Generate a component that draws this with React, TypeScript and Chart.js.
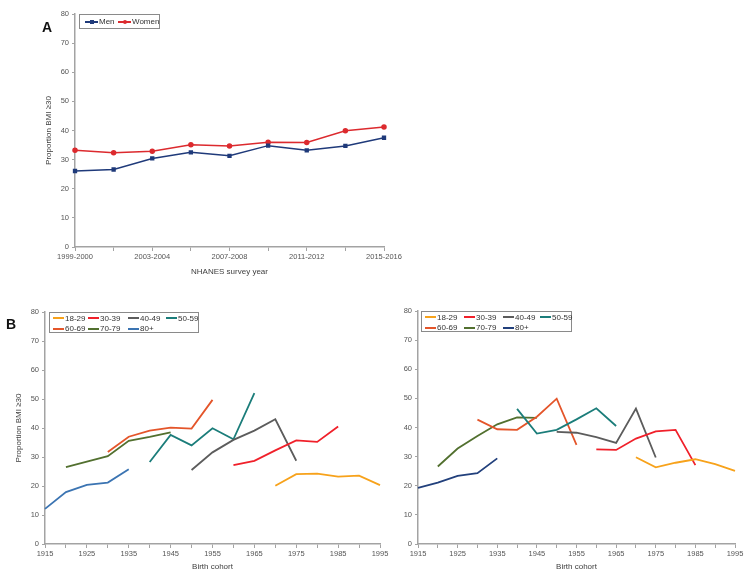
import React, { useEffect, useRef } from "react";
import { Chart, registerables } from "chart.js";
Chart.register(...registerables);

// ---------- Panel A data ----------
const surveyYears = ["1999-2000", "2001-2002", "2003-2004", "2005-2006", "2007-2008", "2009-2010", "2011-2012", "2013-2014", "2015-2016"];
const menValues = [26.1, 26.6, 30.4, 32.5, 31.3, 34.8, 33.2, 34.7, 37.5];
const womenValues = [33.2, 32.4, 32.9, 35.1, 34.7, 36.0, 35.9, 39.9, 41.2];

// ---------- Panel B data ----------
const cohorts = ["1915", "1920", "1925", "1930", "1935", "1940", "1945", "1950", "1955", "1960", "1965", "1970", "1975", "1980", "1985", "1990", "1995"];
const ageGroups = ["18-29", "30-39", "40-49", "50-59", "60-69", "70-79", "80+"];
const firstCohort = ["1970", "1960", "1950", "1940", "1930", "1920", "1915"];

// left panel
const left18_29 = [20.1, 24.1, 24.3, 23.2, 23.6, 20.3];
const left30_39 = [27.2, 28.7, 32.3, 35.7, 35.2, 40.5];
const left40_49 = [25.5, 31.6, 35.9, 39.1, 43.0, 28.7];
const left50_59 = [28.3, 37.6, 34.0, 39.9, 36.1, 52.0];
const left60_69 = [31.7, 37.0, 39.1, 40.1, 39.8, 49.7];
const left70_79 = [26.5, 28.4, 30.3, 35.6, 36.9, 38.5];
const left80plus = [12.1, 17.9, 20.4, 21.2, 25.8];

// right panel
const right18_29 = [29.8, 26.3, 27.9, 29.1, 27.4, 25.1];
const right30_39 = [32.5, 32.3, 36.2, 38.7, 39.2, 27.1];
const right40_49 = [38.5, 38.2, 36.7, 34.7, 46.5, 29.7];
const right50_59 = [46.4, 37.9, 39.2, 42.8, 46.6, 40.5];
const right60_69 = [42.7, 39.4, 39.2, 43.7, 49.9, 34.0];
const right70_79 = [26.6, 32.8, 37.1, 41.1, 43.5, 43.3];
const right80plus = [19.3, 21.1, 23.4, 24.3, 29.4];

const yTicks = [0, 10, 20, 30, 40, 50, 60, 70, 80];

const leftColors = ["#f7a21b", "#f0202a", "#5c5c5c", "#1b7d7a", "#e4552a", "#52702f", "#3b74b2"];
const rightColors = ["#f7a21b", "#f0202a", "#5c5c5c", "#1b7d7a", "#e4552a", "#52702f", "#22407c"];
const menColor = "#1f3a7a";
const womenColor = "#dc2a2e";

const FONT = '"Liberation Sans", Arial, sans-serif';
const AXIS = "#a3a3a3";
const TICKC = "#555555";

function pad(values: number[], start: string): (number | null)[] {
  const idx = cohorts.indexOf(start);
  const out: (number | null)[] = cohorts.map(() => null);
  values.forEach((v, i) => (out[idx + i] = v));
  return out;
}

function axes(opts: { yWidth: number; xHeight: number; yTitle: string | null; yTitlePad: number; xTitle: string; xTitlePad: number }) {
  return {
    x: {
      type: "category" as const,
      offset: false,
      grid: { display: true, drawOnChartArea: false, drawTicks: true, tickLength: 4, color: AXIS, lineWidth: 1 },
      border: { display: true, color: AXIS, width: 1.5 },
      ticks: {
        autoSkip: false,
        maxRotation: 0,
        minRotation: 0,
        padding: 1,
        color: TICKC,
        font: { family: FONT, size: 7.5 },
        callback: function (this: any, value: any, index: number) {
          return index % 2 === 0 ? this.getLabelForValue(value) : "";
        },
      },
      title: { display: true, text: opts.xTitle, color: "#404040", font: { family: FONT, size: 8 }, padding: { top: 0, bottom: opts.xTitlePad } },
      afterFit: (s: any) => {
        s.height = opts.xHeight;
        s.paddingLeft = 0;
        s.paddingRight = 0;
      },
    },
    y: {
      min: 0,
      max: 80,
      afterBuildTicks: (s: any) => {
        s.ticks = yTicks.map((v) => ({ value: v }));
      },
      grid: { display: true, drawOnChartArea: false, drawTicks: true, tickLength: 3, color: AXIS, lineWidth: 1 },
      border: { display: true, color: AXIS, width: 1.5 },
      ticks: { padding: 3, color: TICKC, font: { family: FONT, size: 7.5 } },
      title: { display: !!opts.yTitle, text: opts.yTitle || "", color: "#404040", font: { family: FONT, size: 8 }, padding: { top: opts.yTitlePad, bottom: 0 } },
      afterFit: (s: any) => {
        s.width = opts.yWidth;
        s.paddingTop = 0;
        s.paddingBottom = 0;
      },
    },
  };
}

function cohortDatasets(values: number[][], colors: string[]) {
  return ageGroups.map((g, i) => ({
    label: g,
    data: pad(values[i], firstCohort[i]),
    borderColor: colors[i],
    backgroundColor: colors[i],
    borderWidth: 1.8,
    pointRadius: 0,
    tension: 0,
    spanGaps: false,
  }));
}

type LegendEntry = { label: string; color: string; x: number; y: number; lw: number; marker?: "rect" | "circle" };

function Legend({ left, top, width, height, items }: { left: number; top: number; width: number; height: number; items: LegendEntry[] }) {
  return (
    <div style={{ position: "absolute", left, top, width, height, border: "1px solid #8a8a8a", boxSizing: "border-box", background: "#fff" }}>
      {items.map((it, i) => (
        <div
          key={i}
          style={{ position: "absolute", left: it.x, top: it.y - 5, height: 10, display: "flex", alignItems: "center", font: `8px ${FONT}`, color: "#333", whiteSpace: "nowrap" }}
        >
          <span style={{ position: "relative", display: "inline-block", width: it.lw, height: 2, background: it.color, marginRight: 1 }}>
            {it.marker ? (
              <span
                style={{ position: "absolute", left: it.lw / 2 - 2, top: -1, width: 4, height: 4, background: it.color, borderRadius: it.marker === "circle" ? "50%" : 0 }}
              />
            ) : null}
          </span>
          {it.label}
        </div>
      ))}
    </div>
  );
}

function cohortLegendItems(colors: string[], cols: number[]): LegendEntry[] {
  return ageGroups.map((g, i) => ({ label: g, color: colors[i], x: cols[i % 4], y: i < 4 ? 5 : 15.5, lw: 11 }));
}

export default function App() {
  const refA = useRef<HTMLCanvasElement>(null);
  const refL = useRef<HTMLCanvasElement>(null);
  const refR = useRef<HTMLCanvasElement>(null);

  useEffect(() => {
    const common = {
      responsive: false,
      animation: false as const,
      events: [] as any[],
      plugins: { legend: { display: false }, tooltip: { enabled: false } },
    };
    const chartA = new Chart(refA.current!, {
      type: "line",
      data: {
        labels: surveyYears,
        datasets: [
          { label: "Men", data: menValues, borderColor: menColor, backgroundColor: menColor, borderWidth: 1.5, pointStyle: "rect", pointRadius: 2, tension: 0 },
          { label: "Women", data: womenValues, borderColor: womenColor, backgroundColor: womenColor, borderWidth: 1.5, pointStyle: "circle", pointRadius: 2, tension: 0 },
        ],
      },
      options: {
        ...common,
        layout: { padding: { top: 14, right: 36, left: 0, bottom: 0 } },
        scales: axes({ yWidth: 75, xHeight: 43, yTitle: "Proportion BMI \u226530", yTitlePad: 44, xTitle: "NHANES survey year", xTitlePad: 13 }) as any,
      },
    });
    const chartL = new Chart(refL.current!, {
      type: "line",
      data: {
        labels: cohorts,
        datasets: cohortDatasets([left18_29, left30_39, left40_49, left50_59, left60_69, left70_79, left80plus], leftColors),
      },
      options: {
        ...common,
        layout: { padding: { top: 12, right: 10, left: 0, bottom: 0 } },
        scales: axes({ yWidth: 45, xHeight: 36, yTitle: "Proportion BMI \u226530", yTitlePad: 14, xTitle: "Birth cohort", xTitlePad: 8 }) as any,
      },
    });
    const chartR = new Chart(refR.current!, {
      type: "line",
      data: {
        labels: cohorts,
        datasets: cohortDatasets([right18_29, right30_39, right40_49, right50_59, right60_69, right70_79, right80plus], rightColors),
      },
      options: {
        ...common,
        layout: { padding: { top: 11, right: 15, left: 0, bottom: 0 } },
        scales: axes({ yWidth: 38, xHeight: 36, yTitle: null, yTitlePad: 0, xTitle: "Birth cohort", xTitlePad: 8 }) as any,
      },
    });
    return () => {
      chartA.destroy();
      chartL.destroy();
      chartR.destroy();
    };
  }, []);

  return (
    <div style={{ position: "absolute", left: 0, top: 0, width: 750, height: 580, background: "#fff", overflow: "hidden" }}>
      <canvas ref={refA} width={420} height={290} style={{ position: "absolute", left: 0, top: 0, width: 420, height: 290 }} />
      <canvas ref={refL} width={390} height={280} style={{ position: "absolute", left: 0, top: 300, width: 390, height: 280 }} />
      <canvas ref={refR} width={370} height={280} style={{ position: "absolute", left: 380, top: 300, width: 370, height: 280 }} />
      <div style={{ position: "absolute", left: 42, top: 20, font: `bold 14px ${FONT}`, lineHeight: "14px", color: "#111" }}>A</div>
      <div style={{ position: "absolute", left: 6, top: 316.5, font: `bold 14px ${FONT}`, lineHeight: "14px", color: "#111" }}>B</div>
      <Legend
        left={79}
        top={14}
        width={81}
        height={15}
        items={[
          { label: "Men", color: menColor, x: 5, y: 6.5, lw: 13, marker: "rect" },
          { label: "Women", color: womenColor, x: 38, y: 6.5, lw: 13, marker: "circle" },
        ]}
      />
      <Legend left={49} top={312} width={150} height={21} items={cohortLegendItems(leftColors, [3, 38, 78, 116])} />
      <Legend left={421} top={311} width={151} height={21} items={cohortLegendItems(rightColors, [3, 42, 81, 118])} />
    </div>
  );
}
